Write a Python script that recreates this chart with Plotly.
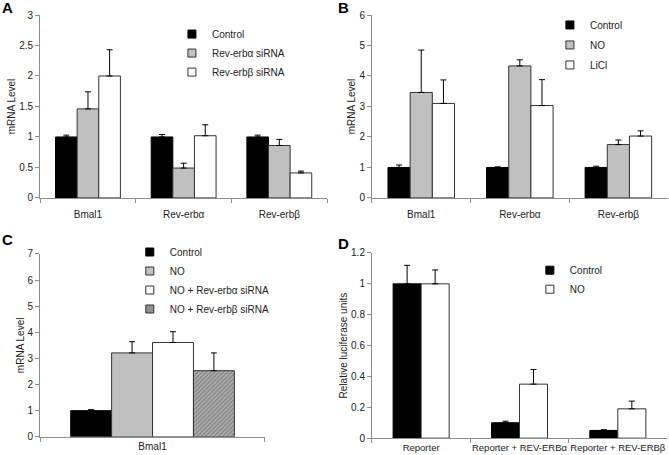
import plotly.graph_objects as go

# Panel A
catsA = ["Bmal1", "Rev-erbα", "Rev-erbβ"]
A_control = [1.0, 1.0, 1.0]
A_control_err = [0.03, 0.04, 0.03]
A_alpha = [1.46, 0.49, 0.86]
A_alpha_err = [0.28, 0.08, 0.10]
A_beta = [2.0, 1.02, 0.41]
A_beta_err = [0.43, 0.18, 0.03]

# Panel B
catsB = ["Bmal1", "Rev-erbα", "Rev-erbβ"]
B_control = [1.0, 1.0, 1.0]
B_control_err = [0.08, 0.02, 0.04]
B_no = [3.46, 4.33, 1.75]
B_no_err = [1.39, 0.20, 0.15]
B_licl = [3.10, 3.03, 2.03]
B_licl_err = [0.77, 0.85, 0.17]

# Panel C
catsC = ["Bmal1"]
C_control = [1.0]
C_control_err = [0.04]
C_no = [3.21]
C_no_err = [0.43]
C_no_alpha = [3.61]
C_no_alpha_err = [0.41]
C_no_beta = [2.53]
C_no_beta_err = [0.68]

# Panel D
catsD = ["Reporter", "Reporter + REV-ERBα", "Reporter + REV-ERBβ"]
D_control = [1.0, 0.10, 0.05]
D_control_err = [0.12, 0.01, 0.005]
D_no = [1.0, 0.35, 0.19]
D_no_err = [0.09, 0.095, 0.05]

FONT = "Liberation Sans, Arial, sans-serif"
GREY = "#c0c0c0"
EDGE = "#333333"
AX = "#8c8c8c"

fig = go.Figure()


def add_bar(x, y, err, fill, xa, ya, width, offset, pattern=None):
    marker = dict(color=fill, line=dict(color=EDGE if fill != "black" else "black", width=1))
    if pattern:
        marker["pattern"] = pattern
    fig.add_trace(go.Bar(
        x=x, y=y, xaxis=xa, yaxis=ya, width=width, offset=offset,
        marker=marker, showlegend=False,
        error_y=dict(type="data", symmetric=False, array=err, arrayminus=[0] * len(err),
                     color="black", thickness=1, width=3),
    ))


def add_legend(name, fill, legend, group=True):
    fig.add_trace(go.Scatter(
        x=[None], y=[None], mode="markers", name=name, legend=legend,
        legendgroup=(legend + name) if group else None,
        marker=dict(symbol="square", size=8, color=fill,
                    line=dict(color="black" if fill == "black" else EDGE, width=1)),
    ))


# A
wA = 0.226
add_bar(catsA, A_control, A_control_err, "black", "x", "y", wA, -1.5 * wA)
add_bar(catsA, A_alpha, A_alpha_err, GREY, "x", "y", wA, -0.5 * wA)
add_bar(catsA, A_beta, A_beta_err, "white", "x", "y", wA, 0.5 * wA)
add_legend("Control", "black", "legend")
add_legend("Rev-erbα siRNA", GREY, "legend")
add_legend("Rev-erbβ siRNA", "white", "legend")

# B
wB = 0.225
add_bar(catsB, B_control, B_control_err, "black", "x2", "y2", wB, -1.5 * wB)
add_bar(catsB, B_no, B_no_err, GREY, "x2", "y2", wB, -0.5 * wB)
add_bar(catsB, B_licl, B_licl_err, "white", "x2", "y2", wB, 0.5 * wB)
add_legend("Control", "black", "legend2")
add_legend("NO", GREY, "legend2")
add_legend("LiCl", "white", "legend2")

# C
wC = 0.182
hatch = dict(shape="/", fgcolor="#555555", bgcolor="#b0b0b0", size=3, solidity=0.45)
add_bar(catsC, C_control, C_control_err, "black", "x3", "y3", wC, -2 * wC)
add_bar(catsC, C_no, C_no_err, GREY, "x3", "y3", wC, -1 * wC)
add_bar(catsC, C_no_alpha, C_no_alpha_err, "white", "x3", "y3", wC, 0)
add_bar(catsC, C_no_beta, C_no_beta_err, "#999999", "x3", "y3", wC, wC, pattern=hatch)
add_legend("Control", "black", "legend3", group=False)
add_legend("NO", GREY, "legend3", group=False)
add_legend("NO + Rev-erbα siRNA", "white", "legend3", group=False)
add_legend("NO + Rev-erbβ siRNA", "#8f8f8f", "legend3", group=False)

# D
wD = 0.285
add_bar(catsD, D_control, D_control_err, "black", "x4", "y4", wD, -wD)
add_bar(catsD, D_no, D_no_err, "white", "x4", "y4", wD, 0)
add_legend("Control", "black", "legend4")
add_legend("NO", "white", "legend4")

xcommon = dict(showline=True, linecolor=AX, linewidth=1, ticks="outside", tickson="boundaries",
               ticklen=4, tickcolor=AX, showgrid=False, zeroline=False, type="category",
               tickangle=0, automargin=False)
ycommon = dict(showline=True, linecolor=AX, linewidth=1, ticks="outside", ticklen=4,
               tickcolor=AX, showgrid=False, zeroline=False, tickfont=dict(size=10, color="#222"),
               title_font=dict(size=10, color="#222"), automargin=False)

legcommon = dict(bgcolor="rgba(0,0,0,0)", itemwidth=30, xanchor="left", yanchor="top")
lf = dict(size=10, color="#222", family=FONT)

fig.update_layout(
    width=669, height=455, margin=dict(l=0, r=0, t=0, b=0, autoexpand=False),
    paper_bgcolor="white", plot_bgcolor="white",
    font=dict(family=FONT, size=10, color="#222"),
    barmode="overlay",
    xaxis=dict(domain=[0.060, 0.489], range=[-0.5, 2.5], anchor="y", ticklabelstandoff=7,
               tickfont=dict(size=10, color="#222"), **xcommon),
    yaxis=dict(domain=[0.565, 0.967], range=[0, 3], dtick=0.5, anchor="x",
               title=dict(text="mRNA Level", standoff=1), **ycommon),
    xaxis2=dict(domain=[0.556, 0.998], range=[-0.5, 2.5], anchor="y2", ticklabelstandoff=7,
                tickfont=dict(size=10, color="#222"), **xcommon),
    yaxis2=dict(domain=[0.565, 0.967], range=[0, 6], dtick=1, anchor="x2",
                title=dict(text="mRNA Level", standoff=1), **ycommon),
    xaxis3=dict(domain=[0.060, 0.396], range=[-0.5, 0.5], anchor="y3", ticklabelstandoff=0,
                tickfont=dict(size=10, color="#222"), **xcommon),
    yaxis3=dict(domain=[0.040, 0.442], range=[0, 7], dtick=1, anchor="x3",
                title=dict(text="mRNA Level", standoff=1), **ycommon),
    xaxis4=dict(domain=[0.556, 0.997], range=[-0.5, 2.5], anchor="y4", ticklabelstandoff=0,
                tickfont=dict(size=9.5, color="#222"), **xcommon),
    yaxis4=dict(domain=[0.037, 0.444], range=[0, 1.2], dtick=0.2, anchor="x4",
                title=dict(text="Relative luciferase units", standoff=1), **ycommon),
    legend=dict(x=0.257, y=0.957, tracegroupgap=0, font=lf, **legcommon),
    legend2=dict(x=0.822, y=0.977, tracegroupgap=1, font=lf, **legcommon),
    legend3=dict(x=0.194, y=0.478, tracegroupgap=0, font=lf, **legcommon),
    legend4=dict(x=0.792, y=0.438, tracegroupgap=0, font=lf, **legcommon),
    annotations=[
        dict(text="<b>A</b>", x=0.0, y=1.006, xref="paper", yref="paper", xanchor="left",
             yanchor="top", showarrow=False, font=dict(size=15, color="black")),
        dict(text="<b>B</b>", x=0.502, y=1.006, xref="paper", yref="paper", xanchor="left",
             yanchor="top", showarrow=False, font=dict(size=15, color="black")),
        dict(text="<b>C</b>", x=0.0, y=0.497, xref="paper", yref="paper", xanchor="left",
             yanchor="top", showarrow=False, font=dict(size=15, color="black")),
        dict(text="<b>D</b>", x=0.502, y=0.488, xref="paper", yref="paper", xanchor="left",
             yanchor="top", showarrow=False, font=dict(size=15, color="black")),
    ],
)

fig.write_html("out.html", config={"displayModeBar": False},
               post_script="document.body.style.margin='0';")
